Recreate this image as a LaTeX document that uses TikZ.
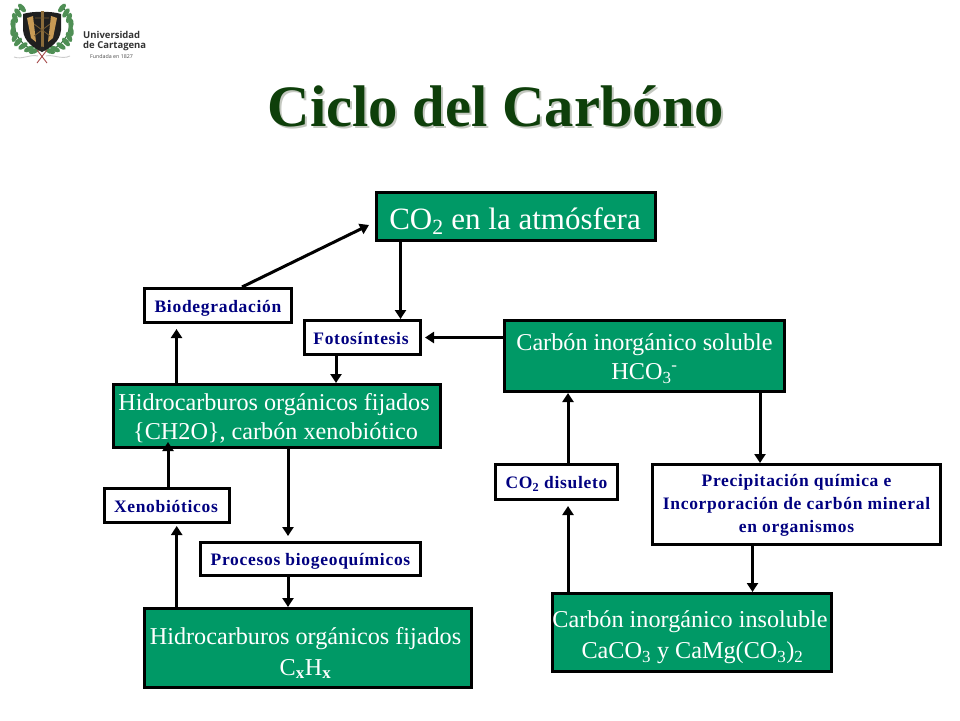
\documentclass[tikz,border=0pt]{standalone}
\usepackage{fontspec}
\setmainfont{Liberation Serif}
\newfontfamily\logofont{Open Sans}
\usetikzlibrary{arrows.meta}
\definecolor{boxgreen}{HTML}{009966}
\definecolor{navy}{HTML}{000080}
\definecolor{titlegreen}{HTML}{0E3F0A}
\definecolor{shadowgray}{HTML}{C4C8C0}
\definecolor{leaf}{HTML}{4F8F55}
\definecolor{leafdark}{HTML}{2F6B3A}
\definecolor{gold}{HTML}{C79A55}
\tikzset{
  x=1pt,y=-1pt,
  gbox/.style={draw=black,line width=3pt,fill=boxgreen,text=white,inner sep=0pt,anchor=north west,font=\fontsize{24.2}{29}\selectfont},
  wbox/.style={draw=black,line width=3pt,fill=white,text=navy,inner sep=0pt,anchor=north west,font=\fontsize{17.5}{23}\selectfont\bfseries\addfontfeature{LetterSpace=4}},
  arr/.style={draw=black,line width=3pt,-{Triangle[length=9pt,width=11pt]}},
  leafy/.style={fill=leaf,draw=none}
}
\newcommand{\bx}[7]{\node[#1,minimum width=#4pt-#2pt-3pt,minimum height=#5pt-#3pt-3pt] (#6) at (#2,#3) {#7};}
% dx, dy (up), lines: text offset from the centre of the box
\newcommand{\tx}[3]{\makebox[0pt]{\kern 2\dimexpr #1pt\relax\raisebox{#2pt}[0pt][0pt]{\begin{tabular}{@{}c@{}}#3\end{tabular}}}}
\begin{document}
\begin{tikzpicture}
\useasboundingbox (0,0) rectangle (960,720);
\fill[white] (0,0) rectangle (960,720);
% logo
\draw[leafdark,line width=1pt] (22,6) .. controls (8,22) and (14,42) .. (36,52);
\draw[leafdark,line width=1pt] (62,6) .. controls (76,22) and (70,42) .. (48,52);
\foreach \a/\b/\r in {22/8/40,18/13/35,15/18/20,13/24/5,13/31/-10,15/37/-25,18/42/-40,23/46/-55,29/49/-65,34/51/-70}{
  \fill[leafy,rotate around={\r:(\a,\b)}] (\a,\b) ellipse [x radius=2.6,y radius=5.5];
  \pgfmathsetmacro{\mx}{84-\a}
  \pgfmathsetmacro{\mr}{-\r}
  \fill[leafy,rotate around={\mr:(\mx,\b)}] (\mx,\b) ellipse [x radius=2.6,y radius=5.5];
}
\fill[black!88] (23,14) .. controls (32,11) and (52,11) .. (61,14) -- (61,30) .. controls (60,42) and (50,48) .. (42,52) .. controls (34,48) and (24,42) .. (23,30) -- cycle;
\fill[gold] (27,18) -- (33,16) -- (36,42) -- (31,38) -- cycle;
\fill[gold] (57,18) -- (51,16) -- (48,42) -- (53,38) -- cycle;
\fill[gold!70!black] (40.5,11) rectangle (43.5,48);
\draw[gold!60!black,line width=.8pt] (34,24) -- (50,36) (50,24) -- (34,36) (35,18) -- (49,18);
\fill[black!85] (42,49) circle (2.5);
\draw[line width=.9pt,red!50!black!70] (37,63) -- (47,50) (37,50) -- (47,63);
\draw[line width=.9pt,gray!40] (14,57) .. controls (22,60) and (30,54) .. (38,56) (46,56) .. controls (52,54) and (62,60) .. (70,56);
\node[font=\logofont\fontsize{9.5}{10.5}\selectfont\bfseries,text=black!80,align=left,anchor=north west,inner sep=0pt] (logotext) at (83,31) {Universidad\\de Cartagena};
\node[font=\logofont\fontsize{5.3}{6}\selectfont,text=black!70,anchor=north west,inner sep=0pt] (logosub) at (90,54) {Fundada en 1827};
% title
\node[font=\fontsize{58.7}{66}\selectfont\bfseries,text=shadowgray,inner sep=0pt] (titleshadow) at (498,108) {Ciclo del Carbóno};
\node[font=\fontsize{58.7}{66}\selectfont\bfseries,text=titlegreen,inner sep=0pt] (title) at (496,106) {Ciclo del Carbóno};
% boxes
\bx{gbox}{375}{191}{657}{242}{co2}{\fontsize{31}{34}\selectfont\tx{-1}{-12}{CO\textsubscript{2} en la atmósfera}}
\bx{wbox}{143}{287}{293}{324}{bio}{\tx{0}{-7}{Biodegradación}}
\bx{wbox}{303}{319}{422}{356}{foto}{\tx{-1.5}{-7}{Fotosíntesis}}
\bx{gbox}{112}{383}{442}{449}{hid}{\tx{-3}{-9}{Hidrocarburos orgánicos fijados\\\hspace*{3pt}\{CH2O\}, carbón xenobiótico}}
\bx{wbox}{103}{487}{231}{524}{xen}{\tx{-1}{-6.5}{Xenobióticos}}
\bx{wbox}{199}{541}{422}{577}{proc}{\tx{0}{-6.5}{Procesos biogeoquímicos}}
\bx{gbox}{143}{607}{473}{689}{hidx}{\tx{-2.5}{-12}{Hidrocarburos orgánicos fijados\\[2pt]C\textsubscript{\textbf{x}}H\textsubscript{\textbf{x}}}}
\bx{gbox}{503}{319}{786}{393}{sol}{\tx{0}{-9.5}{Carbón inorgánico soluble\\HCO\textsubscript{3}\textsuperscript{-}}}
\bx{wbox}{494}{463}{619}{501}{dis}{\tx{0}{-6.5}{CO\textsubscript{2} disuleto}}
\bx{wbox}{651}{463}{942}{546}{prec}{\tx{0}{-5}{Precipitación química e\\Incorporación de carbón mineral\\en organismos}}
\bx{gbox}{551}{592}{833}{673}{ins}{\tx{-2}{-11}{Carbón inorgánico insoluble\\[2pt]\hspace*{5pt}CaCO\textsubscript{3} y CaMg(CO\textsubscript{3})\textsubscript{2}}}
% connectors
\coordinate (toco) at (369,225);
\draw[arr] ([xshift=99pt]bio.north west) -- (toco);
\draw[arr] ([xshift=25.5pt]co2.south west) -- ([xshift=97.5pt]foto.north west);
\draw[arr] ([xshift=64.5pt]hid.north west) -- ([xshift=33.5pt,yshift=-5pt]bio.south west);
\draw[arr] ([xshift=33pt]foto.south west) -- ([xshift=224pt]hid.north west);
\draw[arr] (sol.west |- foto.east) -- ([xshift=3pt]foto.east);
\draw[arr] ([xshift=17pt]ins.north west) -- ([xshift=74pt,yshift=-5pt]dis.south west);
\draw[arr] ([xshift=74pt]dis.north west) -- ([xshift=65pt]sol.south west);
\draw[arr] ([xshift=257pt]sol.south west) -- ([xshift=109pt]prec.north west);
\draw[arr] ([xshift=101.5pt]prec.south west) -- ([xshift=201.5pt]ins.north west);
\draw[arr] ([xshift=176pt]hid.south west) -- ([xshift=89pt,yshift=5pt]proc.north west);
\draw[arr] ([xshift=89pt]proc.south west) -- ([xshift=145pt]hidx.north west);
\draw[arr] ([xshift=33.7pt]hidx.north west) -- ([xshift=73.7pt,yshift=-2pt]xen.south west);
\draw[arr] ([xshift=65pt]xen.north west) -- ([xshift=56pt,yshift=7pt]hid.south west);
\end{tikzpicture}
\end{document}
